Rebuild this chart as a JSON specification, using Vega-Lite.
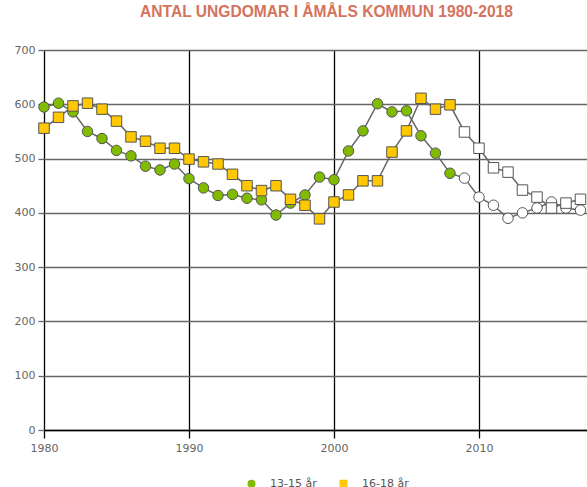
{
  "$schema": "https://vega.github.io/schema/vega-lite/v6.json",
  "width": 543,
  "height": 380,
  "autosize": {"type": "none"},
  "padding": {"left": 44, "top": 50, "right": 0, "bottom": 57},
  "background": "white",
  "title": {
    "text": "ANTAL UNGDOMAR I ÅMÅLS KOMMUN 1980-2018",
    "font": "Liberation Sans",
    "fontSize": 15.6,
    "fontWeight": "bold",
    "color": "#d4735e",
    "anchor": "middle",
    "offset": 23,
    "dx": 11
  },
  "config": {
    "view": {"stroke": null},
    "axis": {"labelFont": "DejaVu Sans", "labelFontSize": 11, "labelColor": "#666666"}
  },
  "data": {
    "values": [
      {"year": 1980, "series": "13-15 år", "value": 595, "proj": false},
      {"year": 1981, "series": "13-15 år", "value": 602, "proj": false},
      {"year": 1982, "series": "13-15 år", "value": 586, "proj": false},
      {"year": 1983, "series": "13-15 år", "value": 550, "proj": false},
      {"year": 1984, "series": "13-15 år", "value": 537, "proj": false},
      {"year": 1985, "series": "13-15 år", "value": 515, "proj": false},
      {"year": 1986, "series": "13-15 år", "value": 505, "proj": false},
      {"year": 1987, "series": "13-15 år", "value": 486, "proj": false},
      {"year": 1988, "series": "13-15 år", "value": 479, "proj": false},
      {"year": 1989, "series": "13-15 år", "value": 490, "proj": false},
      {"year": 1990, "series": "13-15 år", "value": 463, "proj": false},
      {"year": 1991, "series": "13-15 år", "value": 446, "proj": false},
      {"year": 1992, "series": "13-15 år", "value": 432, "proj": false},
      {"year": 1993, "series": "13-15 år", "value": 434, "proj": false},
      {"year": 1994, "series": "13-15 år", "value": 427, "proj": false},
      {"year": 1995, "series": "13-15 år", "value": 424, "proj": false},
      {"year": 1996, "series": "13-15 år", "value": 396, "proj": false},
      {"year": 1997, "series": "13-15 år", "value": 418, "proj": false},
      {"year": 1998, "series": "13-15 år", "value": 433, "proj": false},
      {"year": 1999, "series": "13-15 år", "value": 466, "proj": false},
      {"year": 2000, "series": "13-15 år", "value": 461, "proj": false},
      {"year": 2001, "series": "13-15 år", "value": 514, "proj": false},
      {"year": 2002, "series": "13-15 år", "value": 551, "proj": false},
      {"year": 2003, "series": "13-15 år", "value": 601, "proj": false},
      {"year": 2004, "series": "13-15 år", "value": 586, "proj": false},
      {"year": 2005, "series": "13-15 år", "value": 588, "proj": false},
      {"year": 2006, "series": "13-15 år", "value": 542, "proj": false},
      {"year": 2007, "series": "13-15 år", "value": 510, "proj": false},
      {"year": 2008, "series": "13-15 år", "value": 473, "proj": false},
      {"year": 2009, "series": "13-15 år", "value": 464, "proj": true},
      {"year": 2010, "series": "13-15 år", "value": 429, "proj": true},
      {"year": 2011, "series": "13-15 år", "value": 414, "proj": true},
      {"year": 2012, "series": "13-15 år", "value": 390, "proj": true},
      {"year": 2013, "series": "13-15 år", "value": 400, "proj": true},
      {"year": 2014, "series": "13-15 år", "value": 409, "proj": true},
      {"year": 2015, "series": "13-15 år", "value": 420, "proj": true},
      {"year": 2016, "series": "13-15 år", "value": 409, "proj": true},
      {"year": 2017, "series": "13-15 år", "value": 405, "proj": true},
      {"year": 1980, "series": "16-18 år", "value": 556, "proj": false},
      {"year": 1981, "series": "16-18 år", "value": 576, "proj": false},
      {"year": 1982, "series": "16-18 år", "value": 597, "proj": false},
      {"year": 1983, "series": "16-18 år", "value": 602, "proj": false},
      {"year": 1984, "series": "16-18 år", "value": 591, "proj": false},
      {"year": 1985, "series": "16-18 år", "value": 569, "proj": false},
      {"year": 1986, "series": "16-18 år", "value": 540, "proj": false},
      {"year": 1987, "series": "16-18 år", "value": 532, "proj": false},
      {"year": 1988, "series": "16-18 år", "value": 519, "proj": false},
      {"year": 1989, "series": "16-18 år", "value": 519, "proj": false},
      {"year": 1990, "series": "16-18 år", "value": 499, "proj": false},
      {"year": 1991, "series": "16-18 år", "value": 494, "proj": false},
      {"year": 1992, "series": "16-18 år", "value": 490, "proj": false},
      {"year": 1993, "series": "16-18 år", "value": 471, "proj": false},
      {"year": 1994, "series": "16-18 år", "value": 450, "proj": false},
      {"year": 1995, "series": "16-18 år", "value": 441, "proj": false},
      {"year": 1996, "series": "16-18 år", "value": 450, "proj": false},
      {"year": 1997, "series": "16-18 år", "value": 425, "proj": false},
      {"year": 1998, "series": "16-18 år", "value": 414, "proj": false},
      {"year": 1999, "series": "16-18 år", "value": 389, "proj": false},
      {"year": 2000, "series": "16-18 år", "value": 420, "proj": false},
      {"year": 2001, "series": "16-18 år", "value": 433, "proj": false},
      {"year": 2002, "series": "16-18 år", "value": 459, "proj": false},
      {"year": 2003, "series": "16-18 år", "value": 459, "proj": false},
      {"year": 2004, "series": "16-18 år", "value": 512, "proj": false},
      {"year": 2005, "series": "16-18 år", "value": 551, "proj": false},
      {"year": 2006, "series": "16-18 år", "value": 611, "proj": false},
      {"year": 2007, "series": "16-18 år", "value": 591, "proj": false},
      {"year": 2008, "series": "16-18 år", "value": 599, "proj": false},
      {"year": 2009, "series": "16-18 år", "value": 549, "proj": true},
      {"year": 2010, "series": "16-18 år", "value": 519, "proj": true},
      {"year": 2011, "series": "16-18 år", "value": 483, "proj": true},
      {"year": 2012, "series": "16-18 år", "value": 475, "proj": true},
      {"year": 2013, "series": "16-18 år", "value": 442, "proj": true},
      {"year": 2014, "series": "16-18 år", "value": 429, "proj": true},
      {"year": 2015, "series": "16-18 år", "value": 409, "proj": true},
      {"year": 2016, "series": "16-18 år", "value": 418, "proj": true},
      {"year": 2017, "series": "16-18 år", "value": 425, "proj": true}
    ]
  },
  "encoding": {
    "x": {
      "field": "year",
      "type": "quantitative",
      "scale": {"domain": [1980, 2017.45], "nice": false, "zero": false},
      "axis": {
        "title": null,
        "values": [1980, 1990, 2000, 2010],
        "format": "d",
        "grid": true,
        "gridColor": "#000000",
        "gridWidth": 1.3,
        "gridOpacity": 1,
        "domainColor": "#000000",
        "domainWidth": 1.3,
        "tickColor": "#000000",
        "tickWidth": 1.3,
        "tickSize": 8,
        "labelPadding": 4,
        "labelFlush": false
      }
    },
    "y": {
      "field": "value",
      "type": "quantitative",
      "scale": {"domain": [0, 700], "nice": false},
      "axis": {
        "title": null,
        "values": [0, 100, 200, 300, 400, 500, 600, 700],
        "grid": true,
        "gridColor": "#666666",
        "gridWidth": 1.3,
        "gridOpacity": 1,
        "domain": false,
        "tickColor": "#666666",
        "tickWidth": 1.3,
        "tickSize": 6,
        "labelPadding": 3
      }
    }
  },
  "layer": [
    {
      "mark": {"type": "line", "color": "#666666", "strokeWidth": 1.5},
      "encoding": {"detail": {"field": "series"}, "order": {"field": "year"}}
    },
    {
      "mark": {"type": "point", "filled": true, "size": 110, "stroke": "#555555", "strokeWidth": 1, "opacity": 1},
      "encoding": {
        "shape": {
          "field": "series",
          "type": "nominal",
          "scale": {"domain": ["13-15 år", "16-18 år"], "range": ["circle", "square"]},
          "legend": {
            "orient": "none",
            "legendX": 202,
            "legendY": 428,
            "direction": "horizontal",
            "title": null,
            "symbolSize": 64,
            "symbolStrokeColor": "#555555",
            "symbolStrokeWidth": 1,
            "labelFont": "DejaVu Sans",
            "labelFontSize": 11,
            "labelColor": "#555555",
            "labelOffset": 13,
            "columnPadding": 20
          }
        },
        "fill": {
          "field": "series",
          "type": "nominal",
          "scale": {"domain": ["13-15 år", "16-18 år"], "range": ["#80bb00", "#ffc800"]},
          "condition": {"test": "datum.proj", "value": "#ffffff"},
          "legend": {
            "orient": "none",
            "legendX": 202,
            "legendY": 428,
            "direction": "horizontal",
            "title": null,
            "symbolSize": 64,
            "symbolStrokeColor": "#555555",
            "symbolStrokeWidth": 1,
            "labelFont": "DejaVu Sans",
            "labelFontSize": 11,
            "labelColor": "#555555",
            "labelOffset": 13,
            "columnPadding": 20
          }
        }
      }
    }
  ]
}
